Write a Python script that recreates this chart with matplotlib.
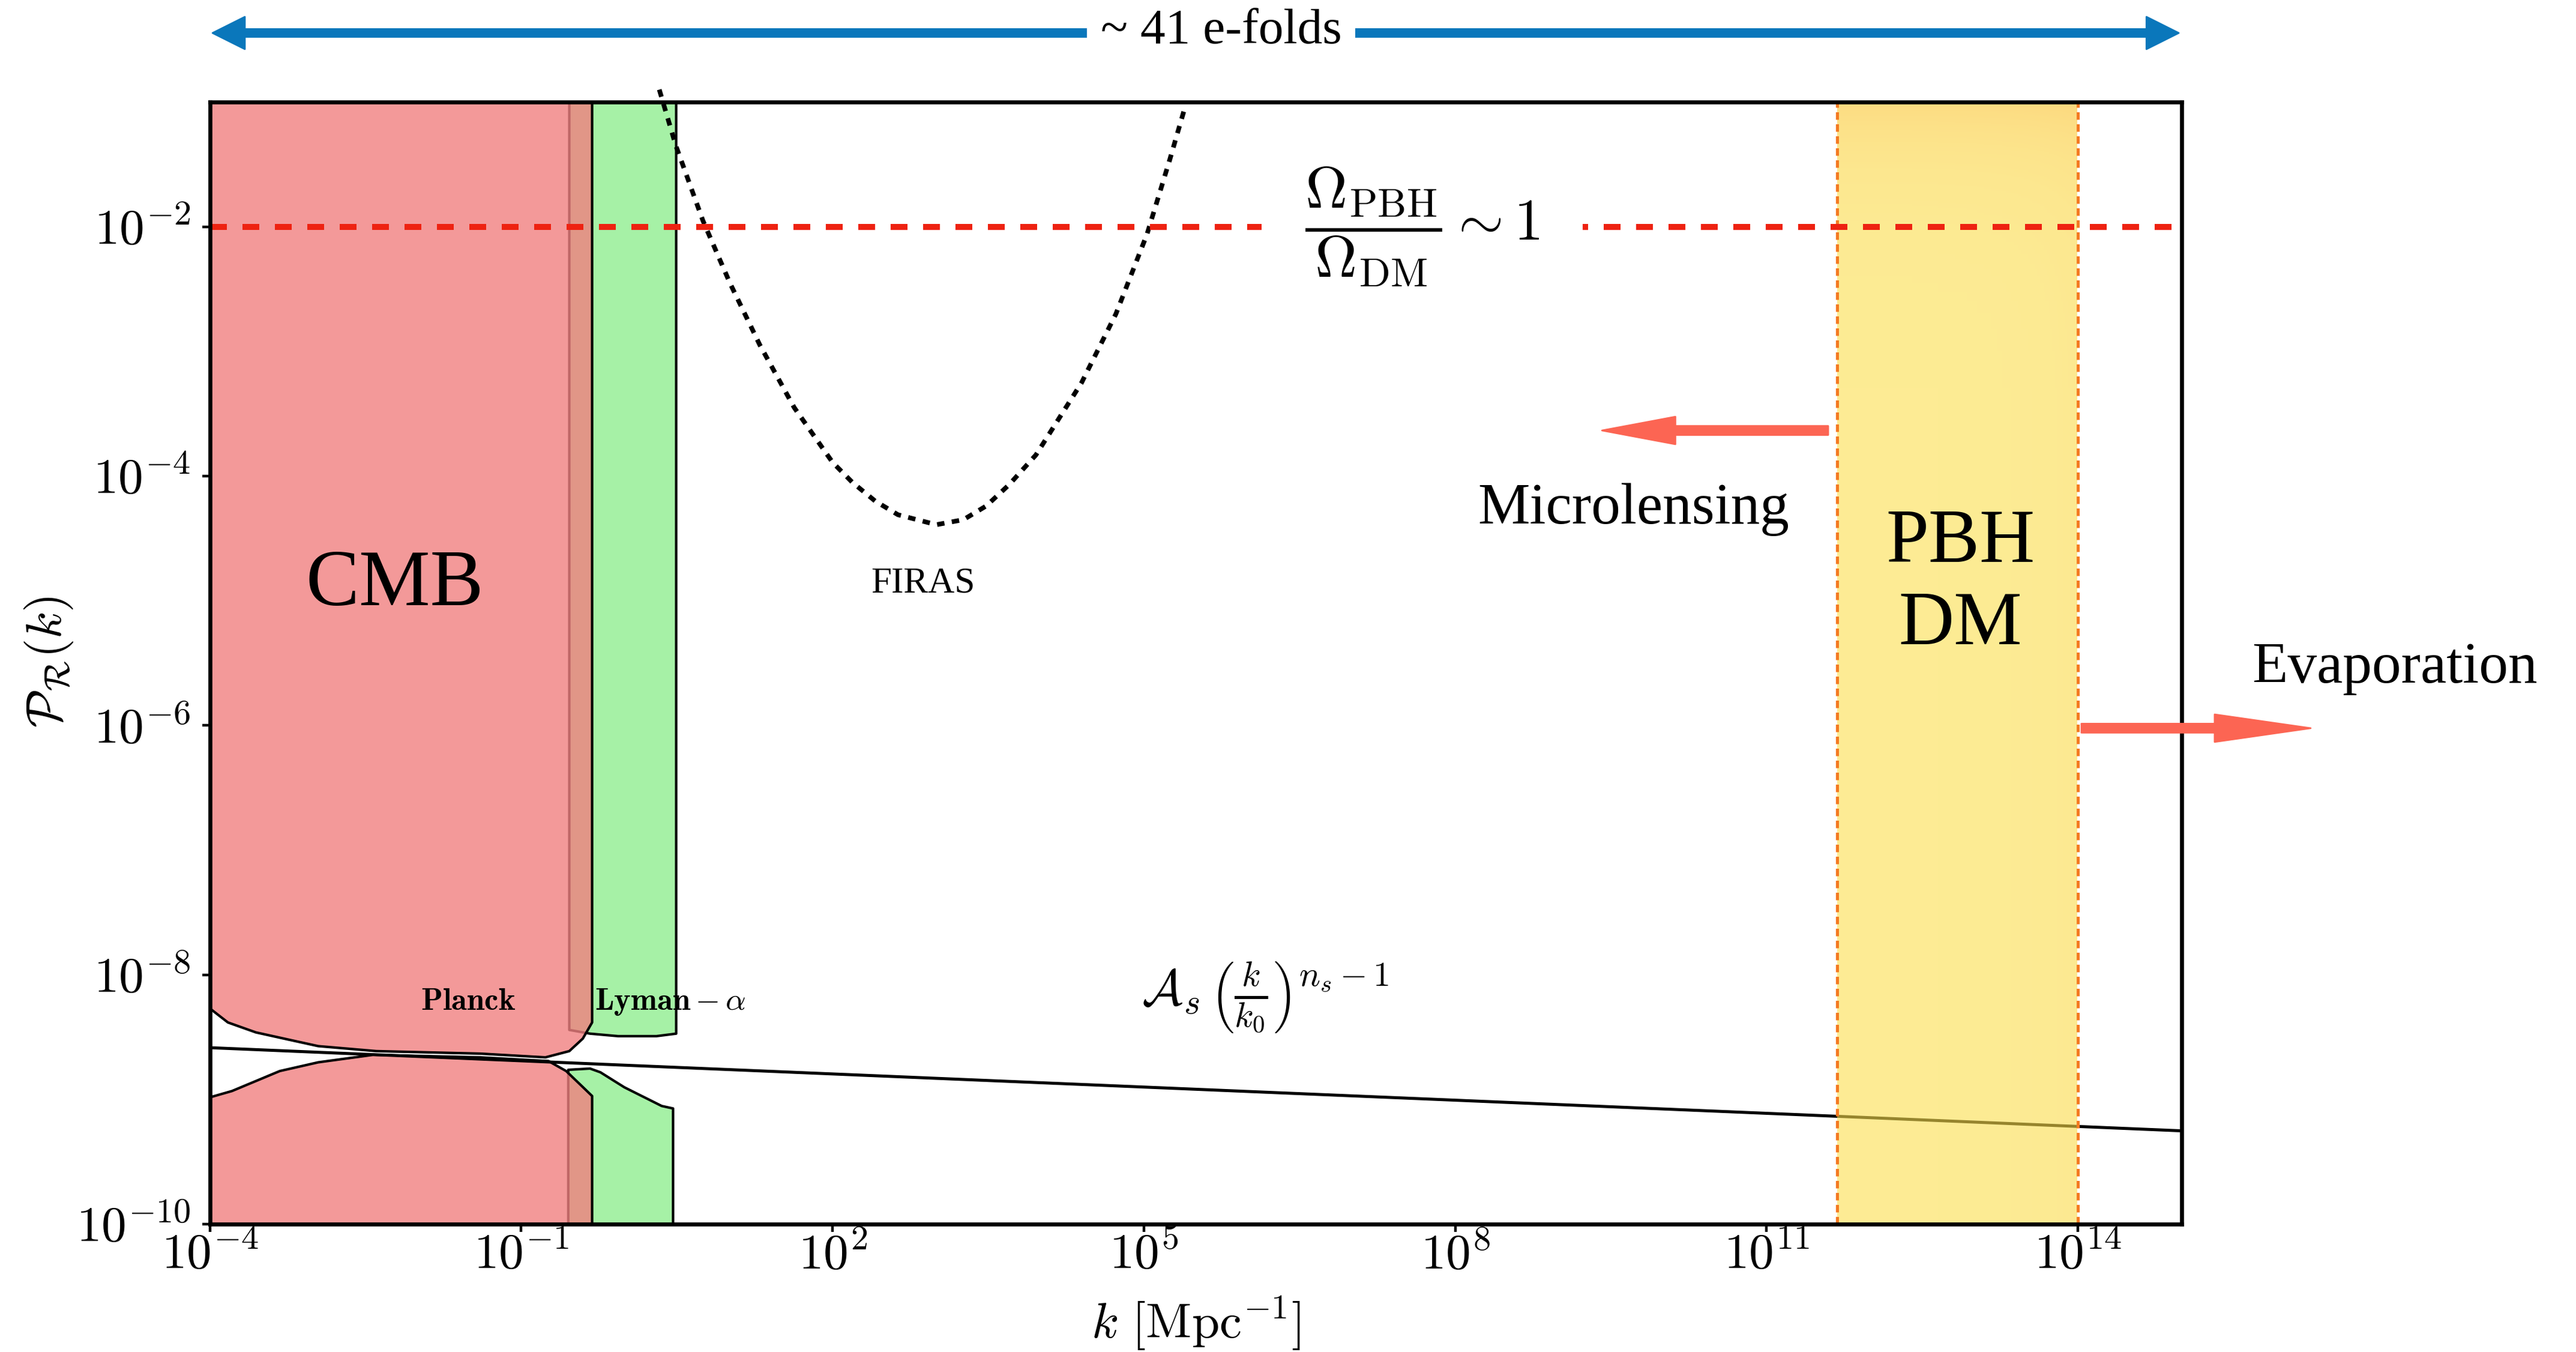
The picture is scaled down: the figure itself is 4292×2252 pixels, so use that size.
import numpy as np
import matplotlib
matplotlib.use('Agg')
import matplotlib.pyplot as plt
from matplotlib.patches import FancyArrowPatch
from matplotlib.colors import LinearSegmentedColormap, to_rgba
from matplotlib.ticker import FuncFormatter, NullLocator

plt.rcParams['mathtext.fontset'] = 'cm'
plt.rcParams['font.family'] = ['Liberation Serif', 'DejaVu Serif']

# constraint boundaries (log10 k, log10 P)
planck_hi_logk = [-4.0, -3.83, -3.56, -2.96, -2.40, -1.40, -0.77, -0.54, -0.41, -0.32]
planck_hi_logP = [-8.27, -8.38, -8.46, -8.57, -8.61, -8.63, -8.66, -8.61, -8.51, -8.38]
planck_lo_logk = [-4.0, -3.79, -3.33, -2.96, -2.43, -1.40, -0.74, -0.57, -0.32]
planck_lo_logP = [-8.98, -8.93, -8.77, -8.70, -8.64, -8.66, -8.69, -8.77, -8.97]
lyman_hi_logk = [-0.54, -0.34, -0.07, 0.30, 0.49]
lyman_hi_logP = [-8.44, -8.47, -8.49, -8.49, -8.47]
lyman_lo_logk = [-0.55, -0.34, -0.24, -0.01, 0.35, 0.46]
lyman_lo_logP = [-8.76, -8.75, -8.78, -8.90, -9.05, -9.07]
firas_logk = [0.33, 0.49, 0.75, 1.01, 1.30, 1.63, 2.00, 2.19, 2.41, 2.63, 3.00, 3.26,
              3.48, 3.70, 3.96, 4.40, 4.73, 5.03, 5.25, 5.40]
firas_logP = [-0.90, -1.35, -1.95, -2.45, -2.95, -3.45, -3.89, -4.05, -4.20, -4.31, -4.39, -4.35,
              -4.24, -4.07, -3.83, -3.25, -2.70, -2.06, -1.46, -1.03]

# nearly scale invariant spectrum, end points
ps_k = [1e-4, 1e15]
ps_P = [2.6e-9, 5.6e-10]

pbh_k = [4.8e11, 1e14]
omega_P = 1e-2

xticks = [1e-4, 1e-1, 1e2, 1e5, 1e8, 1e11, 1e14]
yticks = [1e-10, 1e-8, 1e-6, 1e-4, 1e-2]
xlim = (1e-4, 1e15)
ylim = (1e-10, 1e-1)

fig = plt.figure(figsize=(21.46, 11.26), dpi=200)
ax = fig.add_axes([0.0815, 0.0946, 0.7654, 0.8299])
ax.set_xscale('log')
ax.set_yscale('log')

red = to_rgba('lightcoral', 0.8)
green = to_rgba('lightgreen', 0.8)

# Lyman-alpha (under the Planck region)
ax.fill_between(10**np.array(lyman_hi_logk), 10**np.array(lyman_hi_logP), ylim[1],
                facecolor=green, edgecolor='k', lw=1.5, zorder=2)
ax.fill_between(10**np.array(lyman_lo_logk), ylim[0], 10**np.array(lyman_lo_logP),
                facecolor=green, edgecolor='k', lw=1.5, zorder=2)
# Planck
ax.fill_between(10**np.array(planck_hi_logk), 10**np.array(planck_hi_logP), ylim[1],
                facecolor=red, edgecolor='k', lw=1.5, zorder=3)
ax.fill_between(10**np.array(planck_lo_logk), ylim[0], 10**np.array(planck_lo_logP),
                facecolor=red, edgecolor='k', lw=1.5, zorder=3)

ax.plot(ps_k, ps_P, color='k', lw=1.8, zorder=4)
ax.plot(10**np.array(firas_logk), 10**np.array(firas_logP), color='k', lw=2.8,
        dashes=(1.6, 1.6), zorder=4, clip_on=False)

# PBH dark matter window, gradient fill
gy = np.linspace(0, 1, 200)[:, None]
gx = np.linspace(0, 1, 50)[None, :]
grad = 0.85 * gy + 0.15 * gx
cmap = LinearSegmentedColormap.from_list('pbh', ['#fcdf4d', '#fbbf28'])
ax.imshow(grad, extent=[pbh_k[0], pbh_k[1], ylim[0], ylim[1]], origin='lower',
          aspect='auto', cmap=cmap, alpha=0.6, zorder=5)
for kk in pbh_k:
    ax.axvline(kk, color='#f47a22', lw=1.8, dashes=(2.5, 1.5), zorder=6)

ax.axhline(omega_P, color='#ee2211', lw=3.6, dashes=(2.8, 2.6), zorder=6)

ax.set_xlim(*xlim)
ax.set_ylim(*ylim)
ax.set_xticks(xticks)
ax.set_yticks(yticks)
ax.xaxis.set_minor_locator(NullLocator())
ax.yaxis.set_minor_locator(NullLocator())
fmt = FuncFormatter(lambda v, p: r'$10^{%d}$' % int(round(np.log10(v))))
ax.xaxis.set_major_formatter(fmt)
ax.yaxis.set_major_formatter(fmt)
ax.tick_params(axis='both', labelsize=30, length=4.7, width=1.6, direction='out')
ax.tick_params(axis='x', pad=1)
ax.tick_params(axis='y', pad=7)
for s in ax.spines.values():
    s.set_linewidth(2.4)
    s.set_zorder(8)

ax.set_xlabel(r'$k\ [\mathrm{Mpc}^{-1}]$', fontsize=30)
ax.set_ylabel(r'$\mathcal{P}_\mathcal{R}(k)$', fontsize=30)
ax.xaxis.set_label_coords(0.5, -0.063)
ax.yaxis.set_label_coords(-0.0685, 0.501)

# labels inside the axes
ax.text(10**-2.22, 10**-4.88, 'CMB', fontsize=48, ha='center', va='center', zorder=9)
ax.text(10**2.87, 10**-4.86, 'FIRAS', fontsize=22, ha='center', va='center', zorder=9)
ax.text(10**-1.51, 10**-8.28, r'$\mathbf{Planck}$', fontsize=19, ha='center', va='baseline', zorder=9)
ax.text(10**-0.29, 10**-8.28, r'$\mathbf{Lyman}-\alpha$', fontsize=19, ha='left', va='baseline', zorder=9)
ax.text(10**6.17, 10**-8.18, r'$\mathcal{A}_s\,\left(\frac{k}{k_0}\right)^{n_s-1}$',
        fontsize=30, ha='center', va='center', zorder=9)
ax.text(10**7.68, omega_P, r'$\dfrac{\Omega_{\rm PBH}}{\Omega_{\rm DM}}\sim 1$', fontsize=35,
        ha='center', va='center', zorder=9,
        bbox=dict(fc='white', ec='none', pad=26))
ax.text(10**12.87, 10**-4.87, 'PBH\nDM', fontsize=46, ha='center', va='center',
        linespacing=1.25, zorder=9)
ax.text(10**9.72, 10**-4.27, 'Microlensing', fontsize=35, ha='center', va='center', zorder=9)

fig.text(0.9296, 0.4951, 'Evaporation', fontsize=35, ha='center', va='baseline')


def fig_arrow(x0, x1, y, color, tail, hw, hl):
    a = FancyArrowPatch((x0, y), (x1, y), transform=fig.transFigure,
                        arrowstyle='simple,tail_width=%g,head_width=%g,head_length=%g' % (tail, hw, hl),
                        mutation_scale=1, color=color, shrinkA=0, shrinkB=0, zorder=2)
    fig.add_artist(a)


fig_arrow(0.7097, 0.6219, 0.6816, '#fc6553', 5.4, 16.5, 44)
fig_arrow(0.808, 0.897, 0.4614, '#fc6553', 5.4, 16.5, 57.6)

mid = 0.5 * (0.0825 + 0.8458)
fig_arrow(mid, 0.0825, 0.9756, '#0a77bb', 4.7, 19.4, 19.4)
fig_arrow(mid, 0.8458, 0.9756, '#0a77bb', 4.7, 19.4, 19.4)
fig.text(0.474, 0.977, '~ 41 e-folds', fontsize=30, ha='center', va='center', zorder=5,
         bbox=dict(fc='white', ec='none', pad=8))

fig.savefig('out.png', dpi=200)
